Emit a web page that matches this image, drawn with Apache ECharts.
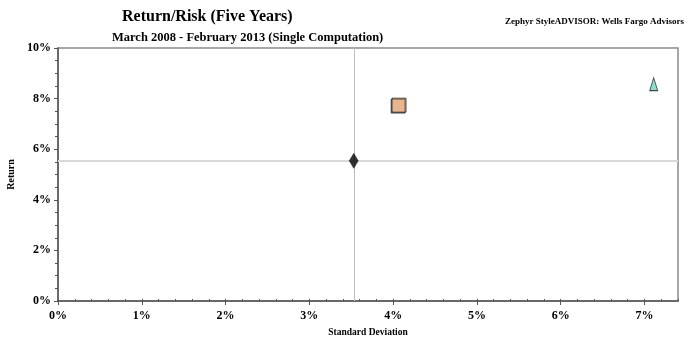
<!DOCTYPE html>
<html>
<head>
<meta charset="utf-8">
<script src="https://cdn.jsdelivr.net/npm/echarts@6/dist/echarts.min.js"></script>
<style>
  html, body { margin: 0; padding: 0; background: #fff; }
  #chart { width: 694px; height: 338px; }
</style>
</head>
<body>
<div id="chart"></div>
<script>
// risk / return points
var names = ['Benchmark', 'Portfolio A', 'Portfolio B'];
var stdDev = [3.53, 4.07, 7.11];
var returns = [5.54, 7.74, 8.57];
var symbols = ['diamond', 'rect', 'triangle'];
var fills = ['#000000', '#FFC090', '#6FD3BE'];

var serif = '"Liberation Serif", "DejaVu Serif", serif';
var labelStyle = { fontFamily: serif, fontWeight: 'bold', fontSize: 12, color: '#000' };

var chart = echarts.init(document.getElementById('chart'));

var series = names.map(function (n, i) {
  var s = {
    name: n,
    type: 'scatter',
    symbol: symbols[i],
    symbolSize: i === 0 ? [9, 15] : (i === 1 ? 14 : [8, 13]),
    itemStyle: {
      color: fills[i],
      borderColor: i === 0 ? '#000' : '#222',
      borderWidth: i === 0 ? 0.5 : 1
    },
    z: 5,
    data: [[stdDev[i], returns[i]]]
  };
  if (i === 1) {
    s.itemStyle.shadowColor = 'rgba(0,0,0,0.6)';
    s.itemStyle.shadowOffsetX = -1;
    s.itemStyle.shadowOffsetY = 1;
  }
  if (i === 0) {
    // benchmark crosshair
    s.markLine = {
      silent: true,
      symbol: 'none',
      label: { show: false },
      z: 1,
      data: [
        { xAxis: stdDev[0], lineStyle: { color: '#bdbdbd', type: 'solid', width: 1 } },
        { yAxis: returns[0], lineStyle: { color: '#d9d9d9', type: 'solid', width: 2 } }
      ]
    };
  }
  return s;
});

chart.setOption({
  animation: false,
  title: [
    { text: 'Return/Risk (Five Years)', left: 117, top: 4,
      textStyle: { fontFamily: serif, fontWeight: 'bold', fontSize: 16, color: '#000' } },
    { text: 'March 2008 - February 2013 (Single Computation)', left: 107, top: 26,
      textStyle: { fontFamily: serif, fontWeight: 'bold', fontSize: 12.5, color: '#000' } },
    { text: 'Zephyr StyleADVISOR: Wells Fargo Advisors', right: 5, top: 12,
      textStyle: { fontFamily: serif, fontWeight: 'bold', fontSize: 9, color: '#000' } }
  ],
  grid: {
    left: 58, right: 16, top: 48, bottom: 37,
    outerBoundsMode: 'none',
    show: true, borderColor: '#8a8a8a', borderWidth: 1.5
  },
  xAxis: [
    {
      type: 'value', min: 0, max: 7.4, interval: 1,
      name: 'Standard Deviation', nameLocation: 'middle', nameGap: 27,
      nameTextStyle: { fontFamily: serif, fontWeight: 'bold', fontSize: 9.5, color: '#000' },
      axisLine: { show: true, lineStyle: { color: '#555', width: 1.5 } },
      axisTick: { show: true, length: 4, lineStyle: { color: '#555' } },
      axisLabel: Object.assign({ margin: 9, showMaxLabel: false,
        formatter: function (v) { return v % 1 === 0 ? v + '%' : ''; } }, labelStyle),
      splitLine: { show: false }
    },
    {
      // minor ticks every 0.2%
      type: 'value', min: 0, max: 7.4, interval: 0.2, position: 'bottom',
      axisLine: { show: false },
      axisTick: { show: true, inside: true, length: 2, lineStyle: { color: '#555' } },
      axisLabel: { show: false },
      splitLine: { show: false }
    }
  ],
  yAxis: {
    type: 'value', min: 0, max: 10, interval: 2,
    name: 'Return', nameLocation: 'middle', nameGap: 42,
    nameTextStyle: { fontFamily: serif, fontWeight: 'bold', fontSize: 10, color: '#000' },
    axisLine: { show: true, lineStyle: { color: '#555', width: 1.5 } },
    axisTick: { show: true, length: 4, lineStyle: { color: '#555' } },
    minorTick: { show: true, splitNumber: 4, length: 3, lineStyle: { color: '#555' } },
    axisLabel: Object.assign({ margin: 7, formatter: '{value}%' }, labelStyle),
    splitLine: { show: false }
  },
  series: series
});
</script>
</body>
</html>
